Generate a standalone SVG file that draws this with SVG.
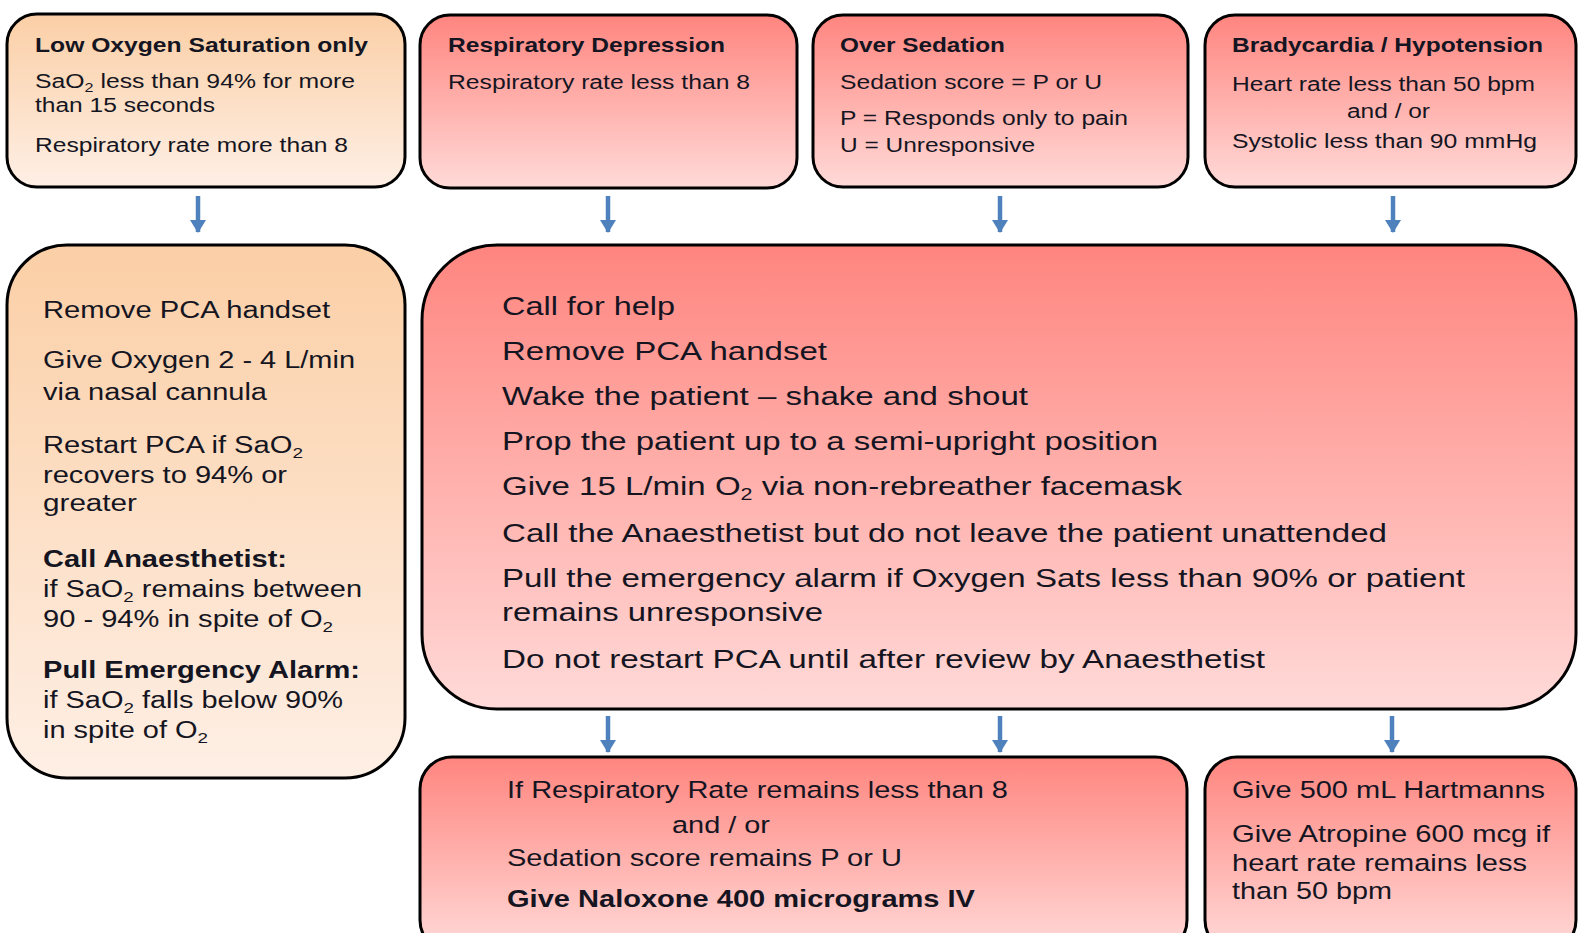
<svg xmlns="http://www.w3.org/2000/svg" width="1578" height="933" viewBox="0 0 1578 933">
<style>
text{font-family:"Liberation Sans",Arial,sans-serif;fill:#151522}
.b{font-weight:bold}
.t19{font-size:19.5px}
.t20{font-size:20.5px}
.t23{font-size:23.5px}
.t24{font-size:24.5px}
.t26{font-size:26.5px}
.sub{font-size:0.65em}
.box{stroke:#000;stroke-width:3}
.or{fill:url(#gOr)}
.rd{fill:url(#gRd)}
.arr{stroke:#4f81bd;stroke-width:4.5;fill:none;marker-end:url(#ah)}
</style>
<defs>
<linearGradient id="gOr" x1="0" y1="0" x2="0" y2="1">
<stop offset="0" stop-color="#fbcfa6"/>
<stop offset="1" stop-color="#feefe5"/>
</linearGradient>
<linearGradient id="gRd" x1="0" y1="0" x2="0" y2="1">
<stop offset="0" stop-color="#ff857f"/>
<stop offset="1" stop-color="#ffdad8"/>
</linearGradient>
<marker id="ah" viewBox="0 0 13 16" refX="12" refY="8" markerWidth="13" markerHeight="16" markerUnits="userSpaceOnUse" orient="auto">
<path d="M0,0 L13,8 L0,16 z" fill="#4f81bd"/>
</marker>
</defs>
<rect width="1578" height="933" fill="#fff"/>

<g id="n-lowox">
<rect class="box or" x="7" y="14" width="398" height="173" rx="30"/>
<text class="t20 b" x="35" y="52" textLength="333" lengthAdjust="spacingAndGlyphs">Low Oxygen Saturation only</text>
<text class="t19" x="35" y="88" textLength="320" lengthAdjust="spacingAndGlyphs">SaO<tspan class="sub" dy="4">2</tspan><tspan dy="-4"> less than 94% for more</tspan></text>
<text class="t19" x="35" y="112" textLength="180" lengthAdjust="spacingAndGlyphs">than 15 seconds</text>
<text class="t19" x="35" y="152" textLength="313" lengthAdjust="spacingAndGlyphs">Respiratory rate more than 8</text>
</g>

<g id="n-resp">
<rect class="box rd" x="420" y="15" width="377" height="173" rx="30"/>
<text class="t20 b" x="448" y="52" textLength="277" lengthAdjust="spacingAndGlyphs">Respiratory Depression</text>
<text class="t19" x="448" y="89" textLength="302" lengthAdjust="spacingAndGlyphs">Respiratory rate less than 8</text>
</g>

<g id="n-sed">
<rect class="box rd" x="813" y="15" width="375" height="172" rx="30"/>
<text class="t20 b" x="840" y="52" textLength="165" lengthAdjust="spacingAndGlyphs">Over Sedation</text>
<text class="t19" x="840" y="89" textLength="262" lengthAdjust="spacingAndGlyphs">Sedation score = P or U</text>
<text class="t19" x="840" y="125" textLength="288" lengthAdjust="spacingAndGlyphs">P = Responds only to pain</text>
<text class="t19" x="840" y="152" textLength="195" lengthAdjust="spacingAndGlyphs">U = Unresponsive</text>
</g>

<g id="n-brady">
<rect class="box rd" x="1205" y="15" width="371" height="172" rx="30"/>
<text class="t20 b" x="1232" y="52" textLength="311" lengthAdjust="spacingAndGlyphs">Bradycardia / Hypotension</text>
<text class="t19" x="1232" y="91" textLength="303" lengthAdjust="spacingAndGlyphs">Heart rate less than 50 bpm</text>
<text class="t19" x="1347" y="118" textLength="83" lengthAdjust="spacingAndGlyphs">and / or</text>
<text class="t19" x="1232" y="148" textLength="305" lengthAdjust="spacingAndGlyphs">Systolic less than 90 mmHg</text>
</g>

<g id="n-lowox-act">
<rect class="box or" x="7" y="245" width="398" height="533" rx="60"/>
<text class="t23" x="43" y="318" textLength="287" lengthAdjust="spacingAndGlyphs">Remove PCA handset</text>
<text class="t23" x="43" y="368" textLength="312" lengthAdjust="spacingAndGlyphs">Give Oxygen 2 - 4 L/min</text>
<text class="t23" x="43" y="400" textLength="224" lengthAdjust="spacingAndGlyphs">via nasal cannula</text>
<text class="t23" x="43" y="453" textLength="260" lengthAdjust="spacingAndGlyphs">Restart PCA if SaO<tspan class="sub" dy="5">2</tspan></text>
<text class="t23" x="43" y="483" textLength="244" lengthAdjust="spacingAndGlyphs">recovers to 94% or</text>
<text class="t23" x="43" y="511" textLength="94" lengthAdjust="spacingAndGlyphs">greater</text>
<text class="t23 b" x="43" y="567" textLength="244" lengthAdjust="spacingAndGlyphs">Call Anaesthetist:</text>
<text class="t23" x="43" y="597" textLength="319" lengthAdjust="spacingAndGlyphs">if SaO<tspan class="sub" dy="5">2</tspan><tspan dy="-5"> remains between</tspan></text>
<text class="t23" x="43" y="627" textLength="290" lengthAdjust="spacingAndGlyphs">90 - 94% in spite of O<tspan class="sub" dy="5">2</tspan></text>
<text class="t23 b" x="43" y="678" textLength="317" lengthAdjust="spacingAndGlyphs">Pull Emergency Alarm:</text>
<text class="t23" x="43" y="708" textLength="300" lengthAdjust="spacingAndGlyphs">if SaO<tspan class="sub" dy="5">2</tspan><tspan dy="-5"> falls below 90%</tspan></text>
<text class="t23" x="43" y="738" textLength="165" lengthAdjust="spacingAndGlyphs">in spite of O<tspan class="sub" dy="5">2</tspan></text>
</g>

<g id="n-main-act">
<rect class="box rd" x="422" y="245" width="1154" height="464" rx="75"/>
<text class="t26" x="502" y="315" textLength="173" lengthAdjust="spacingAndGlyphs">Call for help</text>
<text class="t26" x="502" y="360" textLength="325" lengthAdjust="spacingAndGlyphs">Remove PCA handset</text>
<text class="t26" x="502" y="405" textLength="526" lengthAdjust="spacingAndGlyphs">Wake the patient – shake and shout</text>
<text class="t26" x="502" y="450" textLength="656" lengthAdjust="spacingAndGlyphs">Prop the patient up to a semi-upright position</text>
<text class="t26" x="502" y="495" textLength="680" lengthAdjust="spacingAndGlyphs">Give 15 L/min O<tspan class="sub" dy="5">2</tspan><tspan dy="-5"> via non-rebreather facemask</tspan></text>
<text class="t26" x="502" y="542" textLength="885" lengthAdjust="spacingAndGlyphs">Call the Anaesthetist but do not leave the patient unattended</text>
<text class="t26" x="502" y="587" textLength="963" lengthAdjust="spacingAndGlyphs">Pull the emergency alarm if Oxygen Sats less than 90% or patient</text>
<text class="t26" x="502" y="621" textLength="321" lengthAdjust="spacingAndGlyphs">remains unresponsive</text>
<text class="t26" x="502" y="668" textLength="763" lengthAdjust="spacingAndGlyphs">Do not restart PCA until after review by Anaesthetist</text>
</g>

<g id="n-naloxone">
<rect class="box rd" x="420" y="757" width="767" height="195" rx="32"/>
<text class="t24" x="507" y="798" textLength="501" lengthAdjust="spacingAndGlyphs">If Respiratory Rate remains less than 8</text>
<text class="t24" x="672" y="833" textLength="98" lengthAdjust="spacingAndGlyphs">and / or</text>
<text class="t24" x="507" y="866" textLength="395" lengthAdjust="spacingAndGlyphs">Sedation score remains P or U</text>
<text class="t24 b" x="507" y="907" textLength="468" lengthAdjust="spacingAndGlyphs">Give Naloxone 400 micrograms IV</text>
</g>

<g id="n-hartmanns">
<rect class="box rd" x="1205" y="757" width="371" height="195" rx="32"/>
<text class="t24" x="1232" y="798" textLength="313" lengthAdjust="spacingAndGlyphs">Give 500 mL Hartmanns</text>
<text class="t24" x="1232" y="842" textLength="318" lengthAdjust="spacingAndGlyphs">Give Atropine 600 mcg if</text>
<text class="t24" x="1232" y="871" textLength="295" lengthAdjust="spacingAndGlyphs">heart rate remains less</text>
<text class="t24" x="1232" y="899" textLength="160" lengthAdjust="spacingAndGlyphs">than 50 bpm</text>
</g>

<g id="connectors">
<path class="arr" d="M198,196 V232"/>
<path class="arr" d="M608,196 V232"/>
<path class="arr" d="M1000,196 V232"/>
<path class="arr" d="M1393,196 V232"/>
<path class="arr" d="M608,716 V752"/>
<path class="arr" d="M1000,716 V752"/>
<path class="arr" d="M1392,716 V752"/>
</g>
</svg>
